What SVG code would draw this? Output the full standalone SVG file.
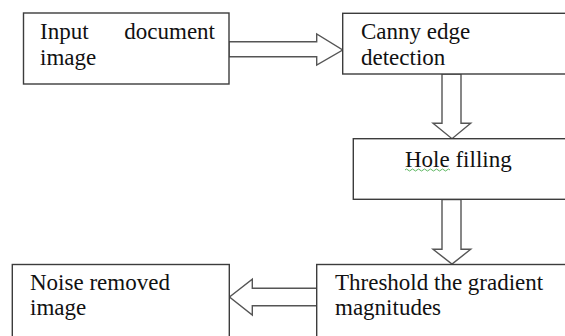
<svg xmlns="http://www.w3.org/2000/svg" width="565" height="336" viewBox="0 0 565 336">
<style>
.box{fill:#fff;stroke:#3c3c3c;stroke-width:1.4}
.arr{fill:#fff;stroke:#555;stroke-width:1.4;stroke-linejoin:miter}
text{font-family:"Liberation Serif","Times New Roman",serif;font-size:23px;fill:#111}
</style>
<rect width="565" height="336" fill="#fff"/>
<g id="connectors">
<polygon class="arr" points="229,41.7 316.7,41.7 316.7,34 342.7,50 316.7,65 316.7,56.7 229,56.7"/>
<polygon class="arr" points="442,74 461,74 461,123.3 470.7,123.3 452,138.7 433,123.3 442,123.3"/>
<polygon class="arr" points="442,199.5 461,199.5 461,249.3 470.7,249.3 452,264 433,249.3 442,249.3"/>
<polygon class="arr" points="316.7,288.3 252.3,288.3 252.3,279.3 229.5,297 252.3,315 252.3,305.7 316.7,305.7"/>
</g>
<g id="n1">
<rect class="box" x="23.5" y="13" width="205.5" height="71"/>
<text x="40" y="39">Input</text>
<text x="215" y="39" text-anchor="end">document</text>
<text x="40" y="64.5">image</text>
</g>
<g id="n2">
<rect class="box" x="342.7" y="13.3" width="240" height="60.7"/>
<text x="361" y="38.5">Canny edge</text>
<text x="361" y="64.5">detection</text>
</g>
<g id="n3">
<rect class="box" x="353.3" y="138.7" width="230" height="60.6"/>
<text x="405" y="167.3">Hole filling</text>
<path d="M405,170 q1.5,-2 3,0 t3,0 t3,0 t3,0 t3,0 t3,0 t3,0 t3,0 t3,0 t3,0 t3,0 t3,0 t3,0 t3,0 t3,0" fill="none" stroke="#4caf50" stroke-width="0.9"/>
</g>
<g id="n4">
<rect class="box" x="316.7" y="264.5" width="270" height="90"/>
<text x="335" y="290">Threshold the gradient</text>
<text x="335" y="315">magnitudes</text>
</g>
<g id="n5">
<rect class="box" x="12.3" y="264.5" width="217" height="90"/>
<text x="30" y="290">Noise removed</text>
<text x="30" y="315">image</text>
</g>
</svg>
